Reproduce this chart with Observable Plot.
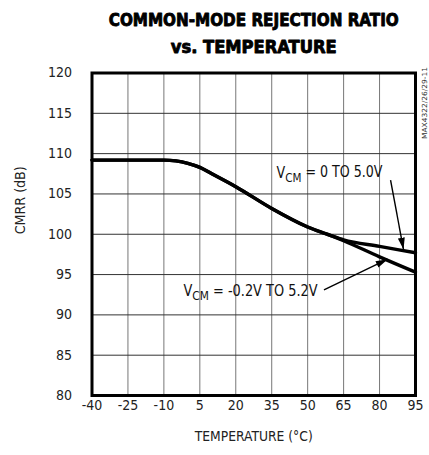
<!DOCTYPE html>
<html>
<head>
<meta charset="utf-8">
<script src="https://cdn.jsdelivr.net/npm/d3@7"></script>
<script src="https://cdn.jsdelivr.net/npm/@observablehq/plot@0.6"></script>
<style>
  body { margin: 0; background: #fff; }
  #chart svg { display: block; }
</style>
</head>
<body>
<div id="chart"></div>
<script>
// ---- data ----
const temps      = [-40, -25, -10, -5, 0, 5, 10, 20, 35, 50, 60, 65, 80, 95];
const cmrrVcm050 = [109.2, 109.2, 109.2, 109.1, 108.8, 108.3, 107.5, 105.9, 103.2, 100.9, 99.8, 99.3, 98.5, 97.7];
const cmrrVcm252 = [109.2, 109.2, 109.2, 109.1, 108.8, 108.3, 107.5, 105.9, 103.2, 100.9, 99.8, 99.2, 97.2, 95.3];
const xTicks = [-40, -25, -10, 5, 20, 35, 50, 65, 80, 95];
const yTicks = [80, 85, 90, 95, 100, 105, 110, 115, 120];
const titleLines = ["COMMON-MODE REJECTION RATIO", "vs. TEMPERATURE"];
const labels = [
  {text: "VCM = 0 TO 5.0V", x: 37.0, y: 107.0},
  {text: "VCM = -0.2V TO 5.2V", x: -1.8, y: 92.3}
];
const arrows = [
  {x1: 84.6, y1: 106.7, x2: 90.0, y2: 98.1},
  {x1: 56.8, y1: 93.1, x2: 83.4, y2: 96.9}
];

const upper = temps.map((t, i) => ({t, v: cmrrVcm050[i]}));
const lower = temps.map((t, i) => ({t, v: cmrrVcm252[i]}));

const FONT = "'Liberation Sans Narrow', 'DejaVu Sans Condensed', sans-serif";

const chart = Plot.plot({
  width: 429,
  height: 455,
  marginLeft: 91.5,
  marginRight: 14,
  marginTop: 72.5,
  marginBottom: 60,
  style: {fontFamily: FONT, fontSize: "14px", color: "#222", background: "#fff", overflow: "visible"},
  x: {domain: [-40, 95]},
  y: {domain: [80, 120]},
  marks: [
    Plot.gridX(xTicks, {stroke: "#777", strokeOpacity: 1, strokeWidth: 1}),
    Plot.gridY(yTicks, {stroke: "#333", strokeOpacity: 1, strokeWidth: 1}),
    Plot.line(upper, {x: "t", y: "v", stroke: "black", strokeWidth: 3.4, curve: "monotone-x"}),
    Plot.line(lower, {x: "t", y: "v", stroke: "black", strokeWidth: 3.4, curve: "monotone-x"}),
    Plot.frame({stroke: "black", strokeWidth: 3}),
    Plot.axisX(xTicks, {tickSize: 0, tickPadding: 5, label: null, fontSize: 14, fill: "#222", tickFormat: d => String(d)}),
    Plot.axisY(yTicks, {tickSize: 0, tickPadding: 20, label: null, fontSize: 14, fill: "#222", tickFormat: d => String(d)}),
    Plot.text(["TEMPERATURE (°C)"], {frameAnchor: "bottom", dy: 45, lineAnchor: "bottom", fontSize: 14, fill: "#222", className: "xlab"}),
    Plot.text(["CMRR (dB)"], {frameAnchor: "left", dx: -71.5, rotate: -90, lineAnchor: "middle", fontSize: 14, fill: "#222", className: "ylab"}),
    Plot.text([titleLines[0]], {frameAnchor: "top", dy: -47.5, lineAnchor: "bottom", fontSize: 17, fontWeight: "bold", fill: "black", stroke: "black", strokeWidth: 0.8, className: "title1"}),
    Plot.text([titleLines[1]], {frameAnchor: "top", dy: -20.5, lineAnchor: "bottom", fontSize: 17, fontWeight: "bold", fill: "black", stroke: "black", strokeWidth: 0.8, className: "title2"}),
    Plot.text(["MAX4322/26/29-11"], {frameAnchor: "top-right", dx: 9, dy: 66, rotate: -90, textAnchor: "start", lineAnchor: "middle", fontSize: 7, fill: "#333", className: "wm"}),
    Plot.text(labels, {x: "x", y: "y", text: "text", textAnchor: "start", lineAnchor: "bottom", fontSize: 15, fill: "#111", className: "vlabel"}),
    Plot.link(arrows, {x1: "x1", y1: "y1", x2: "x2", y2: "y2", stroke: "black", strokeWidth: 1.4, className: "arrowlink"})
  ]
});

const svg = d3.select(chart);
// fit text widths to the reference's condensed face
function fit(sel, len) {
  sel.attr("textLength", len).attr("lengthAdjust", "spacingAndGlyphs");
}
fit(svg.selectAll(".title1 text"), 290);
fit(svg.selectAll(".title2 text"), 166);
fit(svg.selectAll(".xlab text"), 118);
fit(svg.selectAll(".ylab text"), 68);
fit(svg.selectAll(".wm text"), 72);

// subscripts
const labelWidths = [106, 134];
svg.selectAll(".vlabel text").each(function(d, i) {
  const t = d3.select(this);
  const s = t.text();
  const rest = s.slice(3);
  t.text(null);
  t.append("tspan").text("V");
  t.append("tspan").attr("font-size", "0.82em").attr("dy", "0.3em").text("CM");
  t.append("tspan").attr("dy", "-0.3em").text(rest);
  t.attr("textLength", labelWidths[i]).attr("lengthAdjust", "spacingAndGlyphs");
});
// filled arrowheads
const defs = svg.insert("defs", ":first-child");
defs.append("marker")
  .attr("id", "headfill")
  .attr("viewBox", "0 0 12 7")
  .attr("refX", 12).attr("refY", 3.5)
  .attr("markerWidth", 12).attr("markerHeight", 7)
  .attr("markerUnits", "userSpaceOnUse")
  .attr("orient", "auto")
  .append("path").attr("d", "M0,0L12,3.5L0,7Z").attr("fill", "black");
svg.selectAll(".arrowlink path").attr("marker-end", "url(#headfill)");

document.getElementById("chart").appendChild(chart);
</script>
</body>
</html>
